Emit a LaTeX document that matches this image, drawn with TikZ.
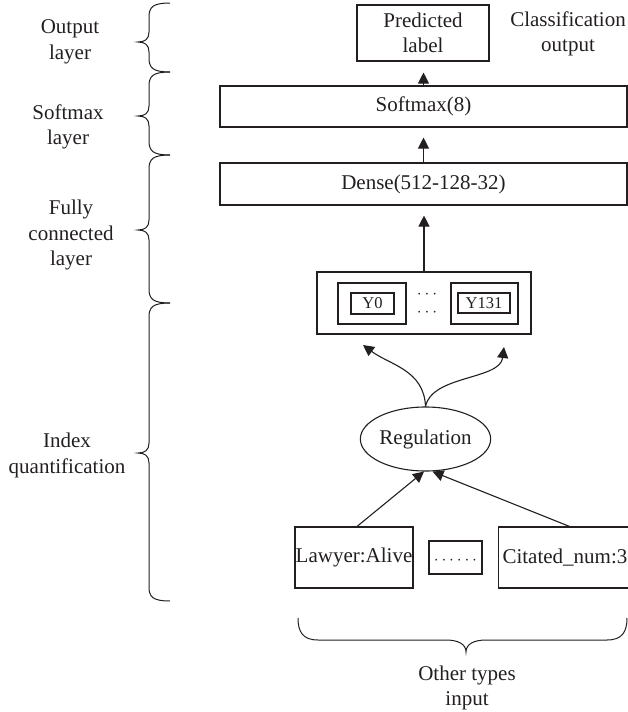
\documentclass[tikz,border=0pt]{standalone}
\usepackage{fontspec}
\setmainfont{Liberation Serif}
\usetikzlibrary{arrows.meta,shapes.geometric}
\definecolor{ink}{HTML}{231F20}
\newcommand\vbrace[3]{%
  \draw[bracestyle] (170,#1) .. controls (153,#1) and (149,#1+4) .. (149,#1+14)
    -- (149,#2-10) .. controls (149,#2-3) and (145,#2) .. (138,#2)
    .. controls (145,#2) and (149,#2+3) .. (149,#2+10)
    -- (149,#3-14) .. controls (149,#3-4) and (153,#3) .. (170,#3);}
\begin{document}
\begin{tikzpicture}[x=1pt,y=-1pt,
  every node/.style={font=\fontsize{21}{25.5}\selectfont, text=ink},
  box/.style={draw=ink, line width=1.1pt, inner sep=0pt},
  small/.style={font=\fontsize{16.5}{20}\selectfont},
  arr/.style={draw=ink, -{Triangle[length=11pt,width=11pt]}, line width=1.1pt},
  bracestyle/.style={draw=ink, line width=1pt}]
\useasboundingbox (0,0) rectangle (628,712);
\clip (0,0) rectangle (628,712);

% right column
\node[box, minimum width=132, minimum height=56, align=center] (pred) at (423,33) {Predicted\\label};
\node[align=center] (cls) at (568,34) {Classification\\output};
\node[box, minimum width=407, minimum height=41] (soft) at (423.5,106.5) {Softmax(8)};
\node[box, minimum width=407, minimum height=42] (dense) at (423.5,184) {Dense(512-128-32)};

\node[box, minimum width=214, minimum height=62] (ybox) at (424,303) {};
\node[box, minimum width=68, minimum height=41] (y0o) at (372,303.5) {};
\node[box, small, minimum width=43, minimum height=21] (y0) at (372.5,303.5) {Y0};
\node[box, minimum width=67, minimum height=41] (y1o) at (484.5,303.5) {};
\node[box, small, minimum width=52, minimum height=20] (y1) at (484,303) {Y131};
\node[font=\fontsize{18}{20}\selectfont, anchor=base, inner sep=0pt] (dt1) at (427,298.5) {$\cdots$};
\node[font=\fontsize{18}{20}\selectfont, anchor=base, inner sep=0pt] (dt2) at (427,316.5) {$\cdots$};

\node[draw=ink, line width=1.1pt, ellipse, minimum width=127, minimum height=64, inner sep=0pt] (reg) at (425.5,439) {Regulation};

\node[box, minimum width=118, minimum height=61] (law) at (354,557.5) {Lawyer:Alive};
\node[box, minimum width=53, minimum height=33] (dbox) at (455.5,557.5) {};
\node[font=\fontsize{16}{20}\selectfont, anchor=base, inner sep=0pt] (dd) at (455.5,564) {$\cdots\cdots$};
\node[box, anchor=west, minimum height=61, text width=134, align=left, inner xsep=4pt] (cit) at (498,557.5) {Citated\_num:3};

\node[align=center] (oth) at (467,688) {Other types\\input};

% left labels
\node[align=center] (lo) at (70,42) {Output\\layer};
\node[align=center] (ls) at (68,127) {Softmax\\layer};
\node[align=center] (lf) at (71,235) {Fully\\connected\\layer};
\node[align=center] (li) at (67,455.5) {Index\\quantification};

% connectors
\draw[arr, shorten >=11pt] (soft.north) -- (soft.north |- pred.south);
\draw[arr, shorten >=10pt] (dense.north) -- (dense.north |- soft.south);
\draw[arr, shorten >=10pt] (ybox.north) -- (ybox.north |- dense.south);

\coordinate (t0) at (363,345);
\coordinate (t1) at (504,347);
\draw[arr] (reg.north) .. controls (424,370) and (390,365) .. (t0);
\draw[arr] (reg.north) .. controls (432,375) and (500,380) .. (t1);

\draw[arr] ([xshift=3pt]law.north) -- ([xshift=-1.5pt]reg.south);
\draw[arr] (cit.north) -- ([xshift=7pt]reg.south);

% braces
\vbrace{3}{42}{72}
\vbrace{72}{116}{155}
\vbrace{155}{230}{303}
\vbrace{303}{453}{601}
\draw[bracestyle] (298,618) .. controls (298,632) and (303,640) .. (318,640) -- (446,640)
  .. controls (458,640) and (466,644) .. (466,652)
  .. controls (466,644) and (474,640) .. (486,640) -- (607,640)
  .. controls (622,640) and (627,632) .. (627,618);
\end{tikzpicture}
\end{document}
